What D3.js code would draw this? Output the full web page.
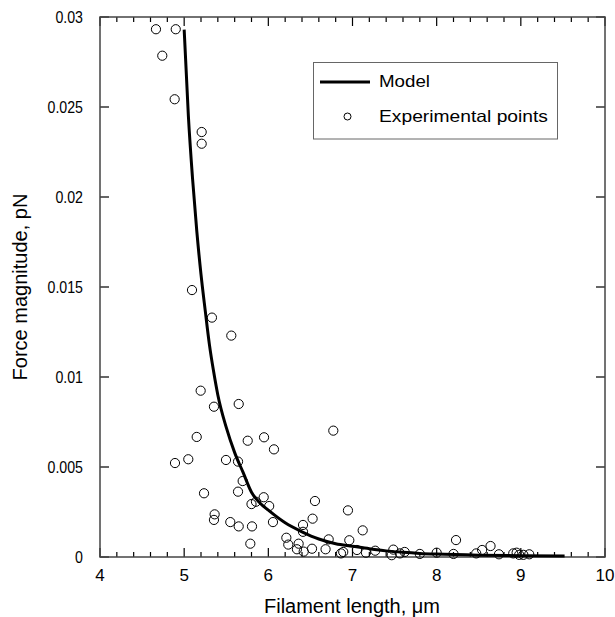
<!DOCTYPE html>
<html><head><meta charset="utf-8">
<script src="https://cdn.jsdelivr.net/npm/d3@7"></script>
<style>body{margin:0;background:#fff}svg{display:block}text{font-family:"Liberation Sans",Arial,sans-serif;fill:#000}</style>
</head><body>
<script>
const xTicks = [4,5,6,7,8,9,10];
const yTicks = [0,0.005,0.01,0.015,0.02,0.025,0.03];
const yTickLabels = ["0","0.005","0.01","0.015","0.02","0.025","0.03"];
const modelX = [5.00,5.05,5.10,5.15,5.20,5.25,5.30,5.35,5.40,5.50,5.60,5.70,5.80,5.90,6.00,6.20,6.40,6.60,6.80,7.00,7.20,7.40,7.60,7.80,8.00,8.50,9.00,9.52];
const modelY = [0.0293,0.0245,0.0210,0.0181,0.0157,0.0137,0.0118,0.0103,0.0090,0.0072,0.0058,0.0047,0.0036,0.0030,0.0026,0.0019,0.0014,0.0010,0.00074,0.00060,0.00046,0.00034,0.00026,0.00020,0.00016,0.00010,0.00007,0.00005];
const expX = [4.665,4.90,4.74,4.887,5.208,5.208,5.093,5.33,5.56,5.196,5.354,5.648,5.149,5.755,5.949,6.067,6.772,4.891,5.049,5.497,5.640,5.695,5.236,5.64,5.945,5.80,5.853,6.01,6.554,6.946,5.362,5.354,5.548,5.648,5.806,6.055,6.526,6.412,6.412,7.121,5.786,6.214,6.237,6.36,6.34,6.42,6.519,6.68,6.717,6.962,6.863,6.89,7.053,7.16,7.27,7.485,7.466,7.62,7.564,7.80,8.0,8.2,8.23,8.47,8.54,8.64,8.74,8.91,8.95,8.98,9.03,9.10];
const expY = [0.02932,0.02932,0.02785,0.02543,0.02361,0.02296,0.01483,0.01330,0.01230,0.00924,0.00835,0.0085,0.00667,0.00646,0.00665,0.00598,0.00702,0.00522,0.00543,0.00539,0.00530,0.00422,0.00354,0.00363,0.00332,0.00294,0.00307,0.00283,0.00311,0.00259,0.00237,0.00206,0.00194,0.0017,0.0017,0.00194,0.00213,0.00178,0.0014,0.00148,0.00074,0.00107,0.00069,0.00074,0.00043,0.0003,0.00046,0.00043,0.00098,0.00093,0.0002,0.00028,0.00039,0.00024,0.00035,0.00041,0.0001,0.00028,0.0002,0.00017,0.00024,0.00017,0.00094,0.0002,0.00039,0.00061,0.00015,0.0002,0.00024,0.00012,0.00012,0.00015];

const W=615,H=617, L=100,R=605,T=17,B=557;
const svg=d3.select("body").append("svg").attr("width",W).attr("height",H);
const x=d3.scaleLinear().domain([4,10]).range([L,R]);
const y=d3.scaleLinear().domain([0,0.03]).range([B,T]);

const minor=d3.range(4,10.0001,0.2);
const g=svg.append("g");
minor.forEach(v=>{
  const major=Math.abs(v-Math.round(v))<1e-6;
  const len=major?9:5;
  g.append("line").attr("x1",x(v)).attr("x2",x(v)).attr("y1",B).attr("y2",B-len).attr("stroke","#000").attr("stroke-width",1.2);
  g.append("line").attr("x1",x(v)).attr("x2",x(v)).attr("y1",T).attr("y2",T+len).attr("stroke","#000").attr("stroke-width",1.2);
});
yTicks.forEach(v=>{
  g.append("line").attr("x1",L).attr("x2",L+9).attr("y1",y(v)).attr("y2",y(v)).attr("stroke","#000").attr("stroke-width",1.2);
  g.append("line").attr("x1",R).attr("x2",R-9).attr("y1",y(v)).attr("y2",y(v)).attr("stroke","#000").attr("stroke-width",1.2);
});
svg.append("rect").attr("x",L).attr("y",T).attr("width",R-L).attr("height",B-T).attr("fill","none").attr("stroke","#444").attr("stroke-width",1.5);

svg.selectAll(".xl").data(xTicks).enter().append("text").attr("x",d=>x(d)).attr("y",581)
  .attr("text-anchor","middle").attr("font-size",17).text(d=>d);
svg.selectAll(".yl").data(yTicks).enter().append("text")
  .attr("transform",d=>`translate(83,${y(d)+6}) scale(0.86,1)`)
  .attr("text-anchor","end").attr("font-size",16.5).text((d,i)=>yTickLabels[i]);

svg.append("text").attr("x",352).attr("y",613).attr("text-anchor","middle").attr("font-size",20).text("Filament length, μm");
svg.append("text").attr("transform","translate(27,287) rotate(-90)").attr("text-anchor","middle").attr("font-size",20).text("Force magnitude, pN");

svg.append("g").selectAll("circle").data(expX.map((d,i)=>[d,expY[i]])).enter().append("circle")
  .attr("cx",d=>x(d[0])).attr("cy",d=>y(d[1])).attr("r",4.6).attr("fill","none").attr("stroke","#000").attr("stroke-width",1);

const line=d3.line().x(d=>x(d[0])).y(d=>y(d[1])).curve(d3.curveMonotoneX);
svg.append("path").datum(modelX.map((d,i)=>[d,modelY[i]])).attr("d",line).attr("fill","none").attr("stroke","#000").attr("stroke-width",3);

const lg=svg.append("g");
lg.append("rect").attr("x",313.5).attr("y",62.5).attr("width",244).attr("height",76.5).attr("fill","#fff").attr("stroke","#666").attr("stroke-width",1);
lg.append("line").attr("x1",320).attr("x2",370).attr("y1",82).attr("y2",82).attr("stroke","#000").attr("stroke-width",3);
lg.append("text").attr("x",379).attr("y",87).attr("font-size",16.5).attr("textLength",51).attr("lengthAdjust","spacingAndGlyphs").text("Model");
lg.append("circle").attr("cx",347.5).attr("cy",116.5).attr("r",3.5).attr("fill","none").attr("stroke","#000").attr("stroke-width",1);
lg.append("text").attr("x",379).attr("y",122).attr("font-size",16.5).attr("textLength",169).attr("lengthAdjust","spacingAndGlyphs").text("Experimental points");
</script>
</body></html>
